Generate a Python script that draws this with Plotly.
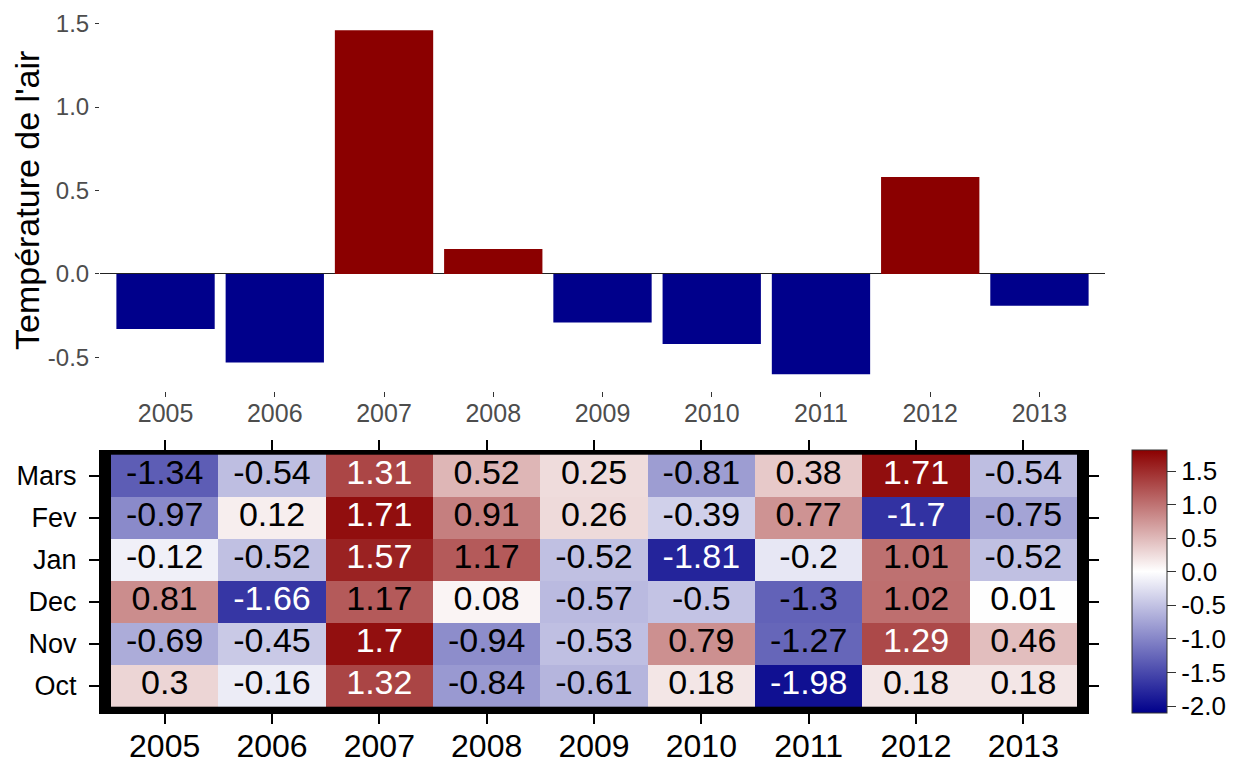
import plotly.graph_objects as go

# ---------------- data ----------------
years = ["2005", "2006", "2007", "2008", "2009", "2010", "2011", "2012", "2013"]
annual = [-0.33, -0.53, 1.46, 0.15, -0.29, -0.42, -0.60, 0.58, -0.19]

months_top_to_bottom = ["Mars", "Fev", "Jan", "Dec", "Nov", "Oct"]
mars = [-1.34, -0.54, 1.31, 0.52, 0.25, -0.81, 0.38, 1.71, -0.54]
fev = [-0.97, 0.12, 1.71, 0.91, 0.26, -0.39, 0.77, -1.7, -0.75]
jan = [-0.12, -0.52, 1.57, 1.17, -0.52, -1.81, -0.2, 1.01, -0.52]
dec = [0.81, -1.66, 1.17, 0.08, -0.57, -0.5, -1.3, 1.02, 0.01]
nov = [-0.69, -0.45, 1.7, -0.94, -0.53, 0.79, -1.27, 1.29, 0.46]
oct_ = [0.3, -0.16, 1.32, -0.84, -0.61, 0.18, -1.98, 0.18, 0.18]

cbar_ticks = [-2.0, -1.5, -1.0, -0.5, 0.0, 0.5, 1.0, 1.5]
bar_yticks = [-0.5, 0.0, 0.5, 1.0, 1.5]

# ---------------- layout helpers ----------------
W, H = 1235, 765
FONT = "Liberation Sans, Arial, sans-serif"


def fx(p):
    return p / W


def fy(p):
    return 1 - p / H


xi = list(range(len(years)))
rows_bottom_to_top = [oct_, nov, dec, jan, fev, mars]
months_bottom_to_top = months_top_to_bottom[::-1]
yi = list(range(len(months_bottom_to_top)))

fig = go.Figure()

# ---------------- bar chart ----------------
bar_colors = ["#8B0000" if v > 0 else "#00008B" for v in annual]
fig.add_trace(go.Bar(
    x=xi, y=annual, width=0.9,
    marker=dict(color=bar_colors, line=dict(width=0)),
    xaxis="x", yaxis="y", showlegend=False, hoverinfo="skip",
))

# ---------------- heatmap ----------------
zmin, zmax = -2.11, 1.81
white_pos = (0 - zmin) / (zmax - zmin)
fig.add_trace(go.Heatmap(
    x=xi, y=yi, z=rows_bottom_to_top,
    zmin=zmin, zmax=zmax,
    colorscale=[[0, "#00008B"], [white_pos, "#FFFFFF"], [1, "#8B0000"]],
    xaxis="x2", yaxis="y2", hoverinfo="skip",
    colorbar=dict(
        x=fx(1132), xanchor="left", xpad=0, ypad=0,
        y=fy((450.5 + 713.3) / 2), yanchor="middle",
        len=(713.3 - 450.5) / H, lenmode="fraction",
        thickness=35, thicknessmode="pixels",
        outlinewidth=1, outlinecolor="#333333",
        tickvals=cbar_ticks, ticktext=[f"{t:.1f}" for t in cbar_ticks],
        ticks="outside", ticklen=9, tickwidth=1, tickcolor="#333333",
        tickfont=dict(size=26, color="black", family=FONT),
    ),
))

tx, ty, tt, tc = [], [], [], []
for r, row in enumerate(rows_bottom_to_top):
    for c, v in enumerate(row):
        tx.append(c)
        ty.append(r)
        tt.append(f"{v:g}")
        tc.append("white" if (v > 1.2 or v < -1.5) else "black")
fig.add_trace(go.Scatter(
    x=tx, y=ty, text=tt, mode="text",
    textfont=dict(size=34, color=tc, family=FONT),
    xaxis="x2", yaxis="y2", showlegend=False, hoverinfo="skip",
))

# black frame behind the heatmap
fig.add_shape(type="rect", xref="x2 domain", yref="y2 domain",
              x0=0, x1=1, y0=0, y1=1, fillcolor="black",
              line=dict(width=0), layer="below")

fig.add_annotation(
    text="Température de l'air", textangle=-90,
    x=fx(27), y=fy(201), xref="paper", yref="paper",
    showarrow=False, xanchor="center", yanchor="middle",
    font=dict(size=34, color="black", family=FONT),
)

fig.update_layout(
    width=W, height=H,
    margin=dict(l=0, r=0, t=0, b=0, autoexpand=False),
    paper_bgcolor="white", plot_bgcolor="white",
    font=dict(family=FONT),
    showlegend=False,
    xaxis=dict(
        domain=[fx(100), fx(1105)], anchor="y", automargin=False,
        range=[-0.6, 8.6],
        tickvals=xi, ticktext=years,
        ticks="outside", ticklen=5, tickwidth=1, tickcolor="#333333",
        tickfont=dict(size=25, color="#4D4D4D", family=FONT),
        ticklabelstandoff=-5,
        showgrid=False, zeroline=False, showline=False,
    ),
    yaxis=dict(
        domain=[fy(390.5), fy(12)], anchor="x", automargin=False,
        range=[-0.698, 1.569],
        tickvals=bar_yticks, ticktext=[f"{t:.1f}" for t in bar_yticks],
        ticks="outside", ticklen=4, tickwidth=1, tickcolor="#333333",
        tickfont=dict(size=24, color="#4D4D4D", family=FONT),
        ticklabelstandoff=1,
        showgrid=False, zeroline=True, zerolinecolor="#222222", zerolinewidth=1,
        showline=False,
    ),
    xaxis2=dict(
        domain=[fx(100), fx(1088)], anchor="y2", automargin=False,
        range=[-0.6025, 8.6025],
        tickvals=xi, ticktext=years,
        ticks="outside", ticklen=10, tickwidth=1.5, tickcolor="black",
        mirror="ticks", showline=True, linecolor="black", linewidth=1,
        tickfont=dict(size=32, color="black", family=FONT),
        ticklabelstandoff=-6,
        showgrid=False, zeroline=False,
    ),
    yaxis2=dict(
        domain=[fy(713.3), fy(450.5)], anchor="x2", automargin=False,
        range=[-0.657, 5.6],
        tickvals=yi, ticktext=months_bottom_to_top,
        ticks="outside", ticklen=10, tickwidth=1.5, tickcolor="black",
        mirror="ticks", showline=True, linecolor="black", linewidth=1,
        tickfont=dict(size=27, color="black", family=FONT),
        ticklabelstandoff=7,
        showgrid=False, zeroline=False,
    ),
)

# remove the default 8px page margin so the figure sits at the window origin
fig.write_html(
    "out.html",
    config={"displayModeBar": False},
    post_script="document.body.style.margin='0px';",
)
